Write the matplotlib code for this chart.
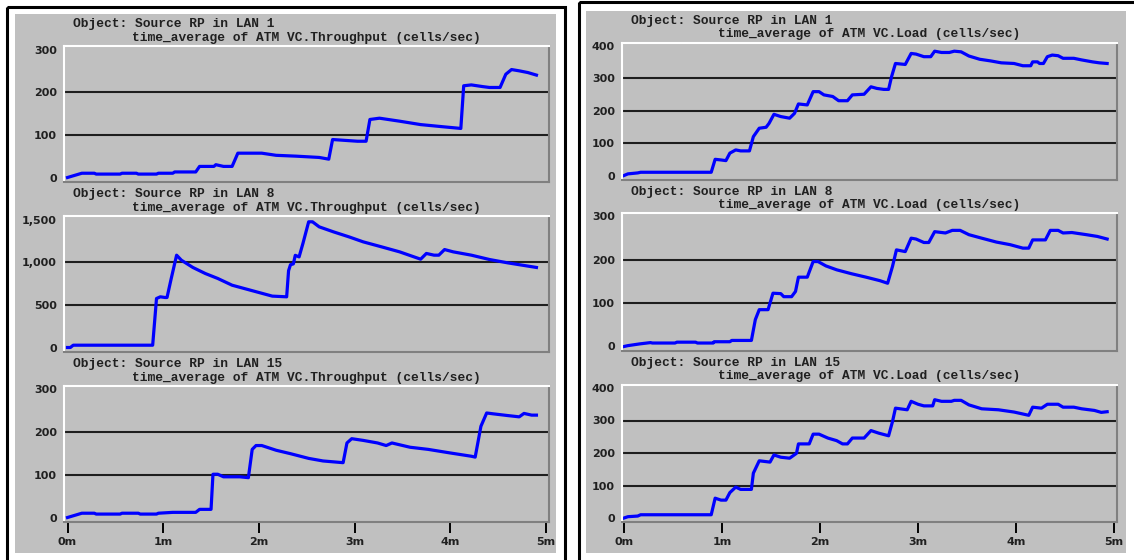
import matplotlib
matplotlib.use("Agg")
import matplotlib.pyplot as plt
from matplotlib.patches import Rectangle

W, H = 1134, 560

# time in minutes, values in cells/sec
thr_lan1_t = [0, 0.15, 0.28, 0.30, 0.55, 0.57, 0.72, 0.74, 0.93, 0.95, 1.10, 1.12, 1.34, 1.38, 1.53, 1.55,
              1.63, 1.72, 1.78, 2.03, 2.18, 2.39, 2.63, 2.73, 2.77, 3.03, 3.12, 3.16, 3.26, 3.47, 3.69, 3.92,
              4.11, 4.14, 4.22, 4.34, 4.41, 4.52, 4.58, 4.64, 4.72, 4.81, 4.90]
thr_lan1_v = [0, 10, 10, 8, 8, 10, 10, 8, 8, 10, 10, 13, 13, 26, 26, 30,
              26, 26, 57, 57, 52, 50, 47, 43, 89, 85, 85, 136, 139, 132, 124, 119,
              115, 215, 217, 213, 211, 211, 242, 253, 250, 246, 240]

thr_lan8_t = [0, 0.03, 0.06, 0.89, 0.91, 0.93, 0.97, 1.02, 1.04, 1.08, 1.14, 1.19, 1.31, 1.44, 1.57,
              1.72, 1.91, 2.14, 2.29, 2.31, 2.33, 2.36, 2.38, 2.42, 2.46, 2.52, 2.56, 2.63, 2.78, 2.94,
              3.09, 3.28, 3.47, 3.69, 3.75, 3.83, 3.88, 3.94, 4.03, 4.22, 4.41, 4.60, 4.75, 4.90]
thr_lan8_v = [0, 0, 27, 27, 300, 574, 594, 586, 586, 789, 1082, 1023, 938, 867, 809,
              730, 672, 602, 594, 900, 970, 980, 1080, 1062, 1219, 1473, 1473, 1414, 1355, 1297,
              1238, 1180, 1121, 1035, 1102, 1082, 1082, 1148, 1121, 1082, 1031, 992, 965, 938]

thr_lan15_t = [0, 0.15, 0.28, 0.30, 0.55, 0.57, 0.74, 0.76, 0.93, 0.95, 1.10, 1.34, 1.38, 1.50, 1.52,
               1.57, 1.63, 1.80, 1.89, 1.93, 1.97, 2.03, 2.18, 2.33, 2.52, 2.67, 2.88, 2.92, 2.97, 3.09,
               3.24, 3.33, 3.39, 3.58, 3.77, 3.99, 4.22, 4.26, 4.32, 4.38, 4.45, 4.60, 4.72, 4.77, 4.85, 4.90]
thr_lan15_v = [0, 10, 10, 8, 8, 10, 10, 8, 8, 10, 12, 12, 19, 19, 101,
               101, 95, 95, 93, 159, 168, 168, 157, 149, 138, 132, 128, 174, 184, 180,
               174, 168, 174, 164, 159, 151, 143, 141, 213, 244, 242, 238, 235, 243, 239, 239]

load_lan1_t = [0, 0.04, 0.14, 0.17, 0.89, 0.93, 0.99, 1.04, 1.08, 1.14, 1.19, 1.28, 1.32, 1.38, 1.45,
               1.48, 1.53, 1.60, 1.69, 1.74, 1.78, 1.87, 1.93, 1.99, 2.04, 2.13, 2.19, 2.28, 2.33, 2.45,
               2.52, 2.58, 2.65, 2.70, 2.73, 2.77, 2.87, 2.93, 2.98, 3.06, 3.13, 3.17, 3.24, 3.32, 3.37,
               3.44, 3.52, 3.63, 3.74, 3.85, 3.98, 4.07, 4.15, 4.17, 4.22, 4.24, 4.28, 4.32, 4.37, 4.43,
               4.48, 4.59, 4.67, 4.78, 4.85, 4.93]
load_lan1_v = [0, 5, 8, 10, 10, 50, 48, 46, 69, 79, 76, 76, 120, 146, 149,
               161, 189, 182, 177, 192, 221, 218, 259, 259, 249, 244, 231, 231, 249, 251,
               274, 269, 266, 266, 305, 346, 343, 377, 375, 367, 367, 384, 380, 380, 384,
               382, 369, 359, 354, 348, 346, 339, 339, 351, 351, 346, 346, 367, 372, 370,
               362, 362, 357, 351, 348, 346]

load_lan8_t = [0, 0.04, 0.16, 0.27, 0.29, 0.52, 0.54, 0.73, 0.75, 0.91, 0.92, 1.08, 1.10, 1.30, 1.34,
               1.38, 1.47, 1.52, 1.60, 1.63, 1.71, 1.75, 1.78, 1.87, 1.93, 1.98, 2.06, 2.17, 2.32, 2.47,
               2.61, 2.69, 2.74, 2.78, 2.87, 2.93, 2.98, 3.06, 3.11, 3.17, 3.28, 3.35, 3.43, 3.52, 3.65,
               3.80, 3.94, 4.07, 4.13, 4.17, 4.30, 4.35, 4.43, 4.48, 4.57, 4.72, 4.83, 4.93]
load_lan8_v = [0, 2, 6, 9, 8, 8, 10, 10, 8, 8, 11, 11, 14, 14, 62,
               85, 85, 123, 122, 115, 115, 127, 160, 160, 196, 196, 186, 177, 168, 160,
               152, 146, 185, 223, 219, 250, 248, 240, 240, 265, 262, 268, 268, 258, 250,
               241, 235, 227, 227, 246, 246, 268, 268, 262, 263, 258, 254, 248]

load_lan15_t = [0, 0.04, 0.14, 0.17, 0.89, 0.93, 0.99, 1.04, 1.08, 1.14, 1.19, 1.30, 1.32, 1.38, 1.49,
                1.53, 1.60, 1.69, 1.76, 1.78, 1.89, 1.93, 1.99, 2.08, 2.17, 2.23, 2.28, 2.33, 2.45, 2.52,
                2.60, 2.70, 2.74, 2.77, 2.89, 2.93, 3.00, 3.06, 3.15, 3.17, 3.24, 3.34, 3.37, 3.44, 3.52,
                3.65, 3.82, 3.98, 4.07, 4.13, 4.17, 4.26, 4.32, 4.43, 4.48, 4.59, 4.67, 4.80, 4.87, 4.93]
load_lan15_v = [0, 4, 6, 10, 10, 61, 55, 55, 78, 95, 88, 88, 138, 176, 172,
                194, 187, 184, 199, 228, 228, 258, 258, 246, 238, 228, 228, 246, 246, 269,
                261, 253, 297, 338, 333, 359, 350, 345, 345, 364, 359, 359, 362, 362, 348,
                336, 333, 326, 320, 316, 341, 338, 350, 350, 341, 341, 336, 331, 325, 327]

lans = ["1", "8", "15"]
thr_ticks = [[0, 100, 200, 300], [0, 500, 1000, 1500], [0, 100, 200, 300]]
load_ticks = [[0, 100, 200, 300, 400], [0, 100, 200, 300], [0, 100, 200, 300, 400]]
time_labels = ["0m", "1m", "2m", "3m", "4m", "5m"]

GRAY = "#c0c0c0"
BLUE = "#0000ff"

fig = plt.figure(figsize=(W / 100, H / 100), dpi=100)
fig.patch.set_facecolor("white")

# pixel-space background layer
bg = fig.add_axes([0, 0, 1, 1], zorder=0)
bg.set_xlim(0, W)
bg.set_ylim(H, 0)
bg.axis("off")
bg.add_patch(Rectangle((6.5, 6.5), 558, 600, fill=False, ec="black", lw=2.2))
bg.add_patch(Rectangle((578.5, 1.8), 600, 600, fill=False, ec="black", lw=2.2))
bg.add_patch(Rectangle((15, 14), 541, 539, fc=GRAY, ec="none"))
bg.add_patch(Rectangle((586, 11), 540, 542, fc=GRAY, ec="none"))


def panel(left, right, t0_px, t5_px, top_px, zero_px, ticks, t, v, name, metric, bottom):
    ymax = ticks[-1]
    scale = (zero_px - top_px) / ymax
    ax_top = top_px - 3.5
    ax_bot = zero_px + 4
    ax = fig.add_axes([left / W, 1 - ax_bot / H, (right - left) / W, (ax_bot - ax_top) / H], zorder=1)
    ax.set_facecolor(GRAY)
    xs = 5 / (t5_px - t0_px)
    ax.set_xlim(-(t0_px - left) * xs, 5 + (right - t5_px) * xs)
    ax.set_ylim(-(ax_bot - zero_px) / scale, ymax + (top_px - ax_top) / scale)
    for y in ticks[1:-1]:
        ax.axhline(y, color="#1e1e1e", lw=1.5, zorder=1)
    ax.plot(t, v, color=BLUE, lw=2.3, solid_joinstyle="round", zorder=2)

    ax.set_yticks(ticks)
    ax.set_yticklabels([f"{y:,}" for y in ticks], fontsize=8, fontweight="bold", color="#202020")
    ax.tick_params(axis="y", length=0, pad=5)
    ax.set_xticks(range(6))
    if bottom:
        ax.set_xticklabels(time_labels, fontsize=8, fontweight="bold", color="#202020")
        ax.tick_params(axis="x", length=8, width=1.4, color="black", pad=3)
    else:
        ax.tick_params(axis="x", length=0, labelbottom=False)

    ax.spines["top"].set_color("white")
    ax.spines["left"].set_color("white")
    ax.spines["right"].set_color("#808080")
    ax.spines["bottom"].set_color("#808080")
    for s in ax.spines.values():
        s.set_linewidth(1.5)

    bg.text(left + 9, ax_top - 21.5, f"Object: Source RP in LAN {name}", family="Liberation Mono",
            fontsize=9.3, fontweight="bold", color="#202020", va="center", ha="left")
    bg.text((left + right) / 2, ax_top - 8, f"time_average of ATM VC.{metric} (cells/sec)",
            family="Liberation Mono", fontsize=9.3, fontweight="bold", color="#202020",
            va="center", ha="center")


thr_series = [(thr_lan1_t, thr_lan1_v), (thr_lan8_t, thr_lan8_v), (thr_lan15_t, thr_lan15_v)]
load_series = [(load_lan1_t, load_lan1_v), (load_lan8_t, load_lan8_v), (load_lan15_t, load_lan15_v)]

thr_rows = [(49.5, 177.5), (219.5, 347.5), (389, 517.5)]
load_rows = [(46, 175.5), (216.5, 346.5), (388, 518)]

for i in range(3):
    panel(64, 549, 67.5, 546, thr_rows[i][0], thr_rows[i][1], thr_ticks[i],
          thr_series[i][0], thr_series[i][1], lans[i], "Throughput", i == 2)
    panel(622, 1117, 624, 1114, load_rows[i][0], load_rows[i][1], load_ticks[i],
          load_series[i][0], load_series[i][1], lans[i], "Load", i == 2)

fig.savefig("out.png", dpi=100)
